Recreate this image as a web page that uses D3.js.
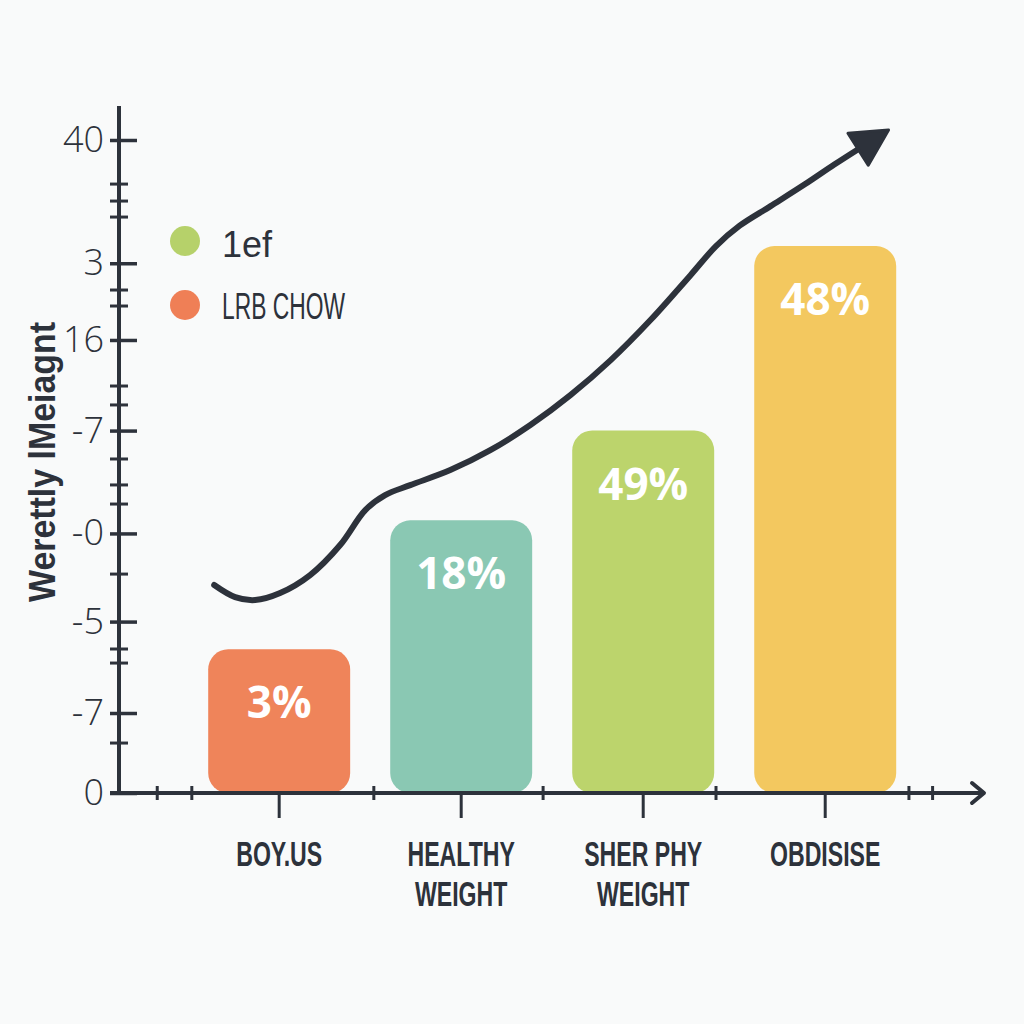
<!DOCTYPE html>
<html>
<head>
<meta charset="utf-8">
<script src="https://cdn.jsdelivr.net/npm/d3@7/dist/d3.min.js"></script>
<style>
  html, body { margin: 0; padding: 0; background: #f9fafa; }
  svg { display: block; }
</style>
</head>
<body>
<svg id="chart" width="1024" height="1024"></svg>
<script>
// ---------- data ----------
const categories = ["BOY.US", "HEALTHY WEIGHT", "SHER PHY WEIGHT", "OBDISISE"];
const categoryLines = [["BOY.US"], ["HEALTHY", "WEIGHT"], ["SHER PHY", "WEIGHT"], ["OBDISISE"]];
const barValues = [8.8, 16.7, 22.2, 33.5];
const barLabels = ["3%", "18%", "49%", "48%"];
const barColors = ["#ef845a", "#8ac8b3", "#bcd46c", "#f3c85f"];

const yTickValues = [0, 4.9, 10.5, 15.9, 22.2, 27.75, 32.45, 40];
const yTickLabels = ["0", "-7", "-5", "-0", "-7", "16", "3", "40"];
const yMinorTicks = [3.06, 7.96, 8.82, 13.41, 17.7, 18.87, 20.46, 23.77, 24.93, 29.83, 30.81, 35.28, 36.26, 37.3];
const xMinorTicks = [-0.67, -0.48, 0.52, 1.45, 2.40, 3.46, 3.59];

// trend line, x in category-index units, y in value units
const trendX = [-0.357, -0.242, -0.132, 0.005, 0.17, 0.335, 0.473, 0.582, 0.72, 0.94, 1.16, 1.38, 1.60, 1.82, 2.04, 2.26, 2.40, 2.53, 2.70, 2.89, 3.05, 3.19];
const trendY = [12.74, 12.0, 11.82, 12.25, 13.35, 15.19, 17.33, 18.25, 18.86, 19.78, 21.0, 22.54, 24.37, 26.5, 28.97, 31.72, 33.5, 34.75, 35.95, 37.3, 38.5, 39.5];

const legendLabels = ["1ef", "LRB CHOW"];
const legendColors = ["#b6d16a", "#ef7f56"];
const yTitle = "Werettly  lMeiagnt";

// ---------- layout ----------
const svg = d3.select("#chart");
const ink = "#2d323b";
const baseY = 793, topY = 140, axisX = 119;

const y = d3.scaleLinear().domain([0, 40]).range([baseY, topY]);
const x = d3.scaleBand().domain(categories).range([190, 914.4]).paddingInner(0.22).paddingOuter(0.1);
const bw = x.bandwidth();
const xc = d => x(d) + bw / 2;
const xLin = d3.scaleLinear().domain([0, 3]).range([xc(categories[0]), xc(categories[3])]);

// bars
svg.append("g").selectAll("rect").data(categories).join("rect")
  .attr("x", d => x(d))
  .attr("y", (d, i) => y(barValues[i]))
  .attr("width", bw)
  .attr("height", (d, i) => y(0) - y(barValues[i]))
  .attr("rx", 20).attr("ry", 20)
  .attr("fill", (d, i) => barColors[i]);

// bar labels
svg.append("g").selectAll("text").data(categories).join("text")
  .attr("x", d => xc(d))
  .attr("y", (d, i) => y(barValues[i]) + 52)
  .attr("text-anchor", "middle")
  .attr("dominant-baseline", "central")
  .attr("fill", "#ffffff")
  .attr("font-family", "'Open Sans', 'Noto Sans', sans-serif")
  .attr("font-weight", 700)
  .attr("font-size", 44)
  .text((d, i) => barLabels[i]);

// Y axis
const yAxis = d3.axisLeft(y).tickValues(yTickValues).tickFormat((d, i) => yTickLabels[i]).tickSize(0);
const gy = svg.append("g").attr("transform", `translate(${axisX},0)`).call(yAxis);
gy.select(".domain").remove();
gy.selectAll(".tick line").attr("x1", -9).attr("x2", 18).attr("stroke", ink).attr("stroke-width", 3.5);
gy.selectAll(".tick text")
  .attr("x", -15)
  .attr("fill", ink)
  .attr("font-family", "'Open Sans', 'Noto Sans', sans-serif")
  .attr("font-weight", 300)
  .attr("font-size", 36);
// minor y ticks
svg.append("g").selectAll("line").data(yMinorTicks).join("line")
  .attr("x1", axisX - 9).attr("x2", axisX + 9)
  .attr("y1", d => y(d)).attr("y2", d => y(d))
  .attr("stroke", ink).attr("stroke-width", 3);
// y axis line
svg.append("line").attr("x1", axisX).attr("x2", axisX).attr("y1", 106).attr("y2", baseY + 2)
  .attr("stroke", ink).attr("stroke-width", 4);

// X axis
svg.append("line").attr("x1", 110).attr("x2", 984).attr("y1", baseY).attr("y2", baseY)
  .attr("stroke", ink).attr("stroke-width", 4);
svg.append("path").attr("d", `M972,${baseY - 10} L984,${baseY} L972,${baseY + 10}`)
  .attr("fill", "none").attr("stroke", ink).attr("stroke-width", 4)
  .attr("stroke-linecap", "round").attr("stroke-linejoin", "round");
// category ticks
svg.append("g").selectAll("line").data(categories).join("line")
  .attr("x1", d => xc(d)).attr("x2", d => xc(d))
  .attr("y1", baseY).attr("y2", baseY + 25)
  .attr("stroke", ink).attr("stroke-width", 3);
// minor x ticks
svg.append("g").selectAll("line").data(xMinorTicks).join("line")
  .attr("x1", d => xLin(d)).attr("x2", d => xLin(d))
  .attr("y1", baseY - 7).attr("y2", baseY + 7)
  .attr("stroke", ink).attr("stroke-width", 3);

// category labels (one text element per category, lines as tspans)
const catText = svg.append("g").selectAll("text").data(categories).join("text")
  .attr("transform", d => `translate(${xc(d)},866) scale(0.66,1)`)
  .attr("text-anchor", "middle")
  .attr("fill", ink)
  .attr("font-family", "'Liberation Sans Narrow', 'Liberation Sans', sans-serif")
  .attr("font-weight", 700)
  .attr("font-size", 35);
catText.each(function (d, i) {
  const t = d3.select(this);
  categoryLines[i].forEach((line, j) => {
    t.append("tspan").attr("x", 0).attr("y", j * 40).text(line);
  });
});

// y axis title
svg.append("text")
  .attr("transform", "translate(55,462) rotate(-90)")
  .attr("text-anchor", "middle")
  .attr("fill", ink)
  .attr("font-family", "'Liberation Sans Narrow', 'Liberation Sans', sans-serif")
  .attr("font-weight", 700)
  .attr("font-size", 37)
  .attr("textLength", 280)
  .attr("lengthAdjust", "spacingAndGlyphs")
  .text(yTitle);

// legend
const legendW = [50, 123];
const lg = svg.append("g").selectAll("g").data(legendLabels).join("g")
  .attr("transform", (d, i) => `translate(185,${241 + i * 64})`);
lg.append("circle").attr("r", 15).attr("fill", (d, i) => legendColors[i]);
lg.append("text")
  .attr("x", 37).attr("y", (d, i) => i === 0 ? 16 : 14)
  .attr("fill", ink)
  .attr("font-family", "'Liberation Sans Narrow', 'Liberation Sans', sans-serif")
  .attr("font-size", 36)
  .attr("textLength", (d, i) => legendW[i])
  .attr("lengthAdjust", "spacingAndGlyphs")
  .text(d => d);

// trend line with arrow
const defs = svg.append("defs");
defs.append("marker")
  .attr("id", "arrow")
  .attr("markerUnits", "userSpaceOnUse")
  .attr("viewBox", "-4 -24 48 48")
  .attr("markerWidth", 48).attr("markerHeight", 48)
  .attr("refX", 2).attr("refY", 0)
  .attr("orient", "auto")
  .append("path")
  .attr("d", "M0,-19 L36,0 L0,19 Z")
  .attr("fill", ink).attr("stroke", ink).attr("stroke-width", 3).attr("stroke-linejoin", "round");

const trend = trendX.map((v, i) => [xLin(v), y(trendY[i])]);
svg.append("path")
  .datum(trend)
  .attr("d", d3.line().curve(d3.curveCatmullRom.alpha(0.5)))
  .attr("fill", "none")
  .attr("stroke", ink)
  .attr("stroke-width", 6)
  .attr("stroke-linecap", "round")
  .attr("stroke-linejoin", "round")
  .attr("marker-end", "url(#arrow)");
</script>
</body>
</html>
